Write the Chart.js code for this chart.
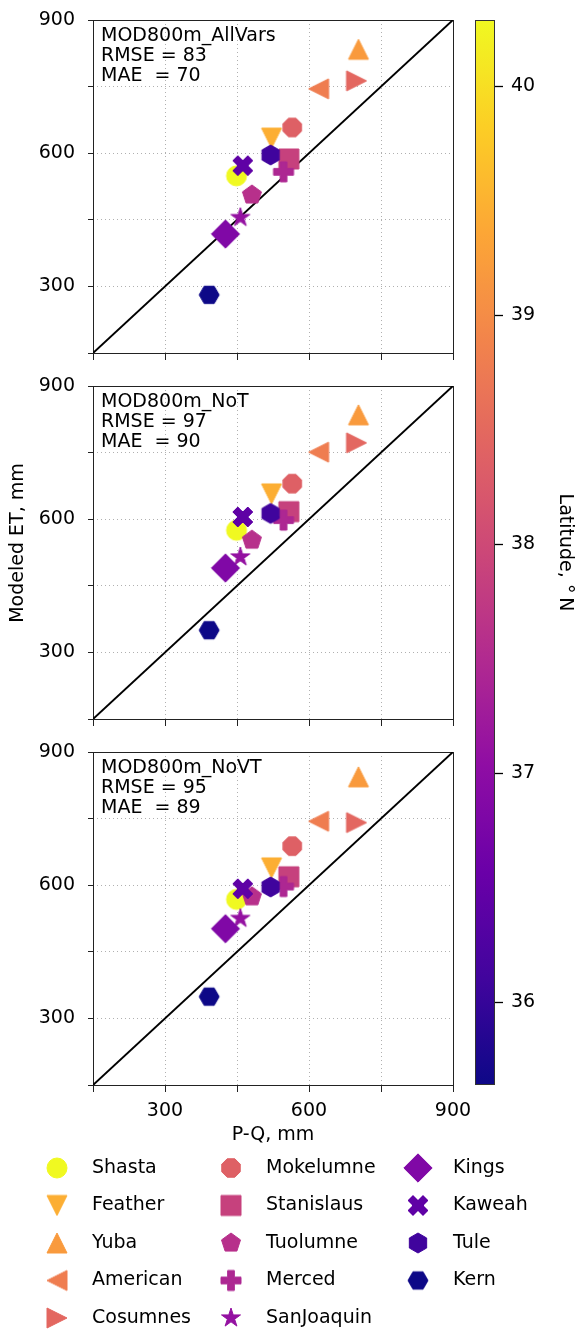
<!DOCTYPE html>
<html>
<head>
<meta charset="utf-8">
<script src="https://cdn.jsdelivr.net/npm/chart.js@4.4.0/dist/chart.umd.min.js"></script>
<style>
  body { margin: 0; background: #fff; }
  #fig { position: relative; width: 579px; height: 1330px; overflow: hidden; background: #fff; }
  #fig canvas { position: absolute; }
</style>
</head>
<body>
<div id="fig">
  <canvas id="p1" width="480" height="370" style="left:0;top:0"></canvas>
  <canvas id="p2" width="480" height="370" style="left:0;top:366px"></canvas>
  <canvas id="p3" width="579" height="598" style="left:0;top:732px"></canvas>
  <canvas id="cbar" width="119" height="1100" style="left:460px;top:0"></canvas>
</div>
<script>
Chart.defaults.font.family = "'DejaVu Sans', sans-serif";
Chart.defaults.font.size = 19;
Chart.defaults.color = '#000';

// basins, north to south
const basins = ['Shasta', 'Feather', 'Yuba', 'American', 'Cosumnes', 'Mokelumne', 'Stanislaus',
  'Tuolumne', 'Merced', 'SanJoaquin', 'Kings', 'Kaweah', 'Tule', 'Kern'];
const markerShapes = ['circle', 'triDown', 'triUp', 'triLeft', 'triRight', 'octagon', 'square',
  'pentagon', 'plus', 'star', 'diamond', 'cross', 'hexagon', 'hexagon2'];
const latitude = [40.29, 39.45, 39.2, 38.8, 38.48, 38.36, 37.87, 37.6, 37.45, 37.1, 36.85, 36.45, 36.1, 35.64];

// P-Q (x) and modeled ET (y) for each run, mm
const pMinusQ = [449, 522, 703, 620, 699, 565, 558, 481, 547, 457, 426, 462, 520, 392];
const etAllVars = [549, 634, 834, 745, 763, 658, 587, 506, 558, 455, 418, 572, 596, 281];
const etNoT = [575, 657, 835, 751, 772, 680, 617, 553, 598, 515, 490, 605, 613, 350];
const etNoVT = [568, 639, 844, 744, 741, 688, 619, 574, 597, 525, 502, 592, 596, 349];

const runNames = ['MOD800m_AllVars', 'MOD800m_NoT', 'MOD800m_NoVT'];
const rmse = [83, 97, 95];
const mae = [70, 90, 89];

const axisRange = [150, 900];
const axisTicks = [150, 300, 450, 600, 750, 900];
const axisLabels = [300, 600, 900];
const latTicks = [36, 37, 38, 39, 40];

// plasma colormap
const plasmaStops = [[13, 8, 135], [65, 4, 157], [106, 0, 168], [143, 13, 164], [177, 42, 144],
  [204, 71, 120], [225, 100, 98], [242, 132, 75], [252, 166, 54], [252, 206, 37], [240, 249, 33]];
function plasma(t) {
  t = Math.max(0, Math.min(1, t)) * (plasmaStops.length - 1);
  const i = Math.min(Math.floor(t), plasmaStops.length - 2), f = t - i;
  const a = plasmaStops[i], b = plasmaStops[i + 1];
  const c = a.map((v, k) => Math.round(v + (b[k] - v) * f));
  return 'rgb(' + c.join(',') + ')';
}
const latMin = Math.min(...latitude), latMax = Math.max(...latitude);
const latColor = lat => plasma((lat - latMin) / (latMax - latMin));

// marker images (size 20px, like matplotlib markers)
function markerCanvas(shape, color) {
  const c = document.createElement('canvas');
  c.width = 36; c.height = 36;
  const g = c.getContext('2d');
  g.translate(18, 18);
  const r = 10;
  const poly = pts => {
    g.beginPath();
    pts.forEach(([px, py], j) => j ? g.lineTo(px, py) : g.moveTo(px, py));
    g.closePath();
  };
  const regular = (n, rad, rot) => {
    const pts = [];
    for (let j = 0; j < n; j++) {
      const a = rot + j * 2 * Math.PI / n;
      pts.push([rad * Math.cos(a), rad * Math.sin(a)]);
    }
    poly(pts);
  };
  switch (shape) {
    case 'circle': g.beginPath(); g.arc(0, 0, r, 0, 2 * Math.PI); break;
    case 'triUp': poly([[0, -r], [-r, r], [r, r]]); break;
    case 'triDown': poly([[0, r], [-r, -r], [r, -r]]); break;
    case 'triLeft': poly([[-r, 0], [r, -r], [r, r]]); break;
    case 'triRight': poly([[r, 0], [-r, -r], [-r, r]]); break;
    case 'square': poly([[-r, -r], [r, -r], [r, r], [-r, r]]); break;
    case 'pentagon': regular(5, r, -Math.PI / 2); break;
    case 'hexagon': regular(6, r, -Math.PI / 2); break;
    case 'hexagon2': regular(6, r, 0); break;
    case 'octagon': regular(8, r, -Math.PI / 2 + Math.PI / 8); break;
    case 'star': {
      const pts = [];
      for (let j = 0; j < 10; j++) {
        const a = -Math.PI / 2 + j * Math.PI / 5, rr = j % 2 ? r * 0.381966 : r;
        pts.push([rr * Math.cos(a), rr * Math.sin(a)]);
      }
      poly(pts);
      break;
    }
    case 'plus':
      poly([[-1, -3], [1, -3], [1, -1], [3, -1], [3, 1], [1, 1], [1, 3], [-1, 3], [-1, 1], [-3, 1], [-3, -1], [-1, -1]]
        .map(([a, b]) => [a * r / 3, b * r / 3]));
      break;
    case 'cross':
      poly([[-1, -2], [0, -1], [1, -2], [2, -1], [1, 0], [2, 1], [1, 2], [0, 1], [-1, 2], [-2, 1], [-1, 0], [-2, -1]]
        .map(([a, b]) => [a * r / 2, b * r / 2]));
      break;
    case 'diamond': {
      const d = r * Math.SQRT2;
      poly([[0, -d], [d, 0], [0, d], [-d, 0]]);
      break;
    }
  }
  g.fillStyle = color; g.fill();
  g.strokeStyle = color; g.lineWidth = 1; g.stroke();
  return c;
}
const markerImgs = basins.map((b, i) => markerCanvas(markerShapes[i], latColor(latitude[i])));

// keep the plot boxes where the layout padding puts them
const noEdgePadding = s => { s.paddingTop = 0; s.paddingBottom = 0; s.paddingLeft = 0; s.paddingRight = 0; };

const frame = {
  id: 'frame',
  beforeDatasetsDraw(chart) {
    const { ctx, chartArea: a } = chart;
    ctx.save();
    ctx.strokeStyle = '#222';
    ctx.lineWidth = 1;
    const l = Math.round(a.left) + 0.5, t = Math.round(a.top) + 0.5;
    ctx.strokeRect(l, t, Math.round(a.right) - Math.round(a.left), Math.round(a.bottom) - Math.round(a.top));
    ctx.restore();
  }
};

function notePlugin(k) {
  return {
    id: 'note',
    afterDatasetsDraw(chart) {
      const { ctx, chartArea: a } = chart;
      ctx.save();
      ctx.font = "19px 'DejaVu Sans'";
      ctx.fillStyle = '#000';
      ctx.textBaseline = 'alphabetic';
      const lines = [runNames[k], 'RMSE = ' + rmse[k], 'MAE  = ' + mae[k]];
      lines.forEach((s, j) => ctx.fillText(s, a.left + 8, a.top + 21 + j * 19.8));
      ctx.restore();
    }
  };
}

// shared y label, sits a little above the middle panel's centre
const sharedYLabel = {
  id: 'sharedYLabel',
  afterDraw(chart) {
    const ctx = chart.ctx;
    ctx.save();
    ctx.font = "19px 'DejaVu Sans'";
    ctx.fillStyle = '#000';
    ctx.textAlign = 'center';
    ctx.textBaseline = 'middle';
    ctx.translate(18, 543 - 366);
    ctx.rotate(-Math.PI / 2);
    ctx.fillText('Modeled ET, mm', 0, 0);
    ctx.restore();
  }
};

const legendBox = {
  id: 'legendBox',
  afterDraw(chart) {
    const ctx = chart.ctx;
    const colX = [57, 231, 418], textDx = 35, rowY = [1168, 1205.5, 1243, 1280.5, 1318], top = 732;
    ctx.save();
    ctx.font = "19px 'DejaVu Sans'";
    ctx.fillStyle = '#000';
    ctx.textBaseline = 'middle';
    basins.forEach((name, i) => {
      const col = Math.floor(i / 5), row = i % 5;
      const x = colX[col], y = rowY[row] - top;
      const img = markerImgs[i];
      ctx.drawImage(img, x - img.width / 2, y - img.height / 2);
      ctx.fillText(name, x + textDx, y);
    });
    ctx.restore();
  }
};

function panel(id, k, et, o) {
  const plugins = [frame, notePlugin(k)];
  if (o.yTitle) plugins.push(sharedYLabel);
  if (o.legend) plugins.push(legendBox);
  return new Chart(document.getElementById(id), {
    type: 'scatter',
    data: {
      datasets: [
        { data: pMinusQ.map((x, i) => ({ x, y: et[i] })), pointStyle: markerImgs, pointRadius: 10, order: 0 },
        { data: axisRange.map(v => ({ x: v, y: v })), showLine: true, borderColor: '#000', borderWidth: 2,
          pointRadius: 0, order: 1 }
      ]
    },
    options: {
      responsive: false,
      animation: false,
      events: [],
      layout: { padding: { left: 5, top: 20, right: o.right, bottom: o.bottom } },
      plugins: { legend: { display: false }, tooltip: { enabled: false } },
      scales: {
        x: {
          type: 'linear', min: axisRange[0], max: axisRange[1],
          afterBuildTicks: s => { s.ticks = axisTicks.map(v => ({ value: v })); },
          afterFit: s => { s.height = o.xh; noEdgePadding(s); },
          grid: { color: '#b0b0b0', lineWidth: 1, tickLength: 7, tickColor: '#222', tickWidth: 1, tickBorderDash: [] },
          border: { display: false, dash: [1, 3] },
          ticks: { autoSkip: false, maxRotation: 0, padding: 8, color: '#000',
            callback: v => o.xLabels && axisLabels.includes(v) ? String(v) : '' },
          title: { display: !!o.xLabels, text: 'P-Q, mm', color: '#000', padding: 0 }
        },
        y: {
          type: 'linear', min: axisRange[0], max: axisRange[1],
          afterBuildTicks: s => { s.ticks = axisTicks.map(v => ({ value: v })); },
          afterFit: s => { s.width = 88; noEdgePadding(s); },
          grid: { color: '#b0b0b0', lineWidth: 1, tickLength: 5, tickColor: '#222', tickWidth: 1, tickBorderDash: [] },
          border: { display: false, dash: [1, 3] },
          ticks: { autoSkip: false, padding: 13, color: '#000',
            callback: v => axisLabels.includes(v) ? String(v) : '' }
        }
      }
    },
    plugins
  });
}

panel('p1', 0, etAllVars, { right: 27, bottom: 7, xh: 10 });
panel('p2', 1, etNoT, { right: 27, bottom: 7, xh: 10, yTitle: true });
panel('p3', 2, etNoVT, { right: 126, bottom: 184, xh: 61, xLabels: true, legend: true });

// latitude colorbar
const colorbarFill = {
  id: 'colorbarFill',
  beforeDatasetsDraw(chart) {
    const { ctx, chartArea: a } = chart;
    const grad = ctx.createLinearGradient(0, a.bottom, 0, a.top);
    for (let j = 0; j <= 40; j++) grad.addColorStop(j / 40, plasma(j / 40));
    ctx.save();
    ctx.fillStyle = grad;
    ctx.fillRect(a.left, a.top, a.right - a.left, a.bottom - a.top);
    ctx.strokeStyle = '#333';
    ctx.lineWidth = 1;
    ctx.strokeRect(Math.round(a.left) + 0.5, Math.round(a.top) + 0.5,
      Math.round(a.right - a.left) - 1, Math.round(a.bottom - a.top) - 1);
    ctx.restore();
  }
};

new Chart(document.getElementById('cbar'), {
  type: 'scatter',
  data: { datasets: [{ data: [] }] },
  options: {
    responsive: false,
    animation: false,
    events: [],
    layout: { padding: { left: 15, top: 20, bottom: 15, right: 3 } },
    plugins: { legend: { display: false }, tooltip: { enabled: false } },
    scales: {
      x: { display: false },
      y: {
        position: 'right', min: latMin, max: latMax,
        afterBuildTicks: s => { s.ticks = latTicks.map(v => ({ value: v })); },
        afterFit: s => { s.width = 81; noEdgePadding(s); },
        grid: { drawOnChartArea: false, tickLength: 8, tickColor: '#000', tickWidth: 1.3 },
        border: { display: false },
        ticks: { padding: 8, color: '#000', callback: v => String(v) },
        title: { display: true, text: 'Latitude, \u00b0\u2009N', color: '#000', padding: 0 }
      }
    }
  },
  plugins: [colorbarFill]
});
</script>
</body>
</html>
